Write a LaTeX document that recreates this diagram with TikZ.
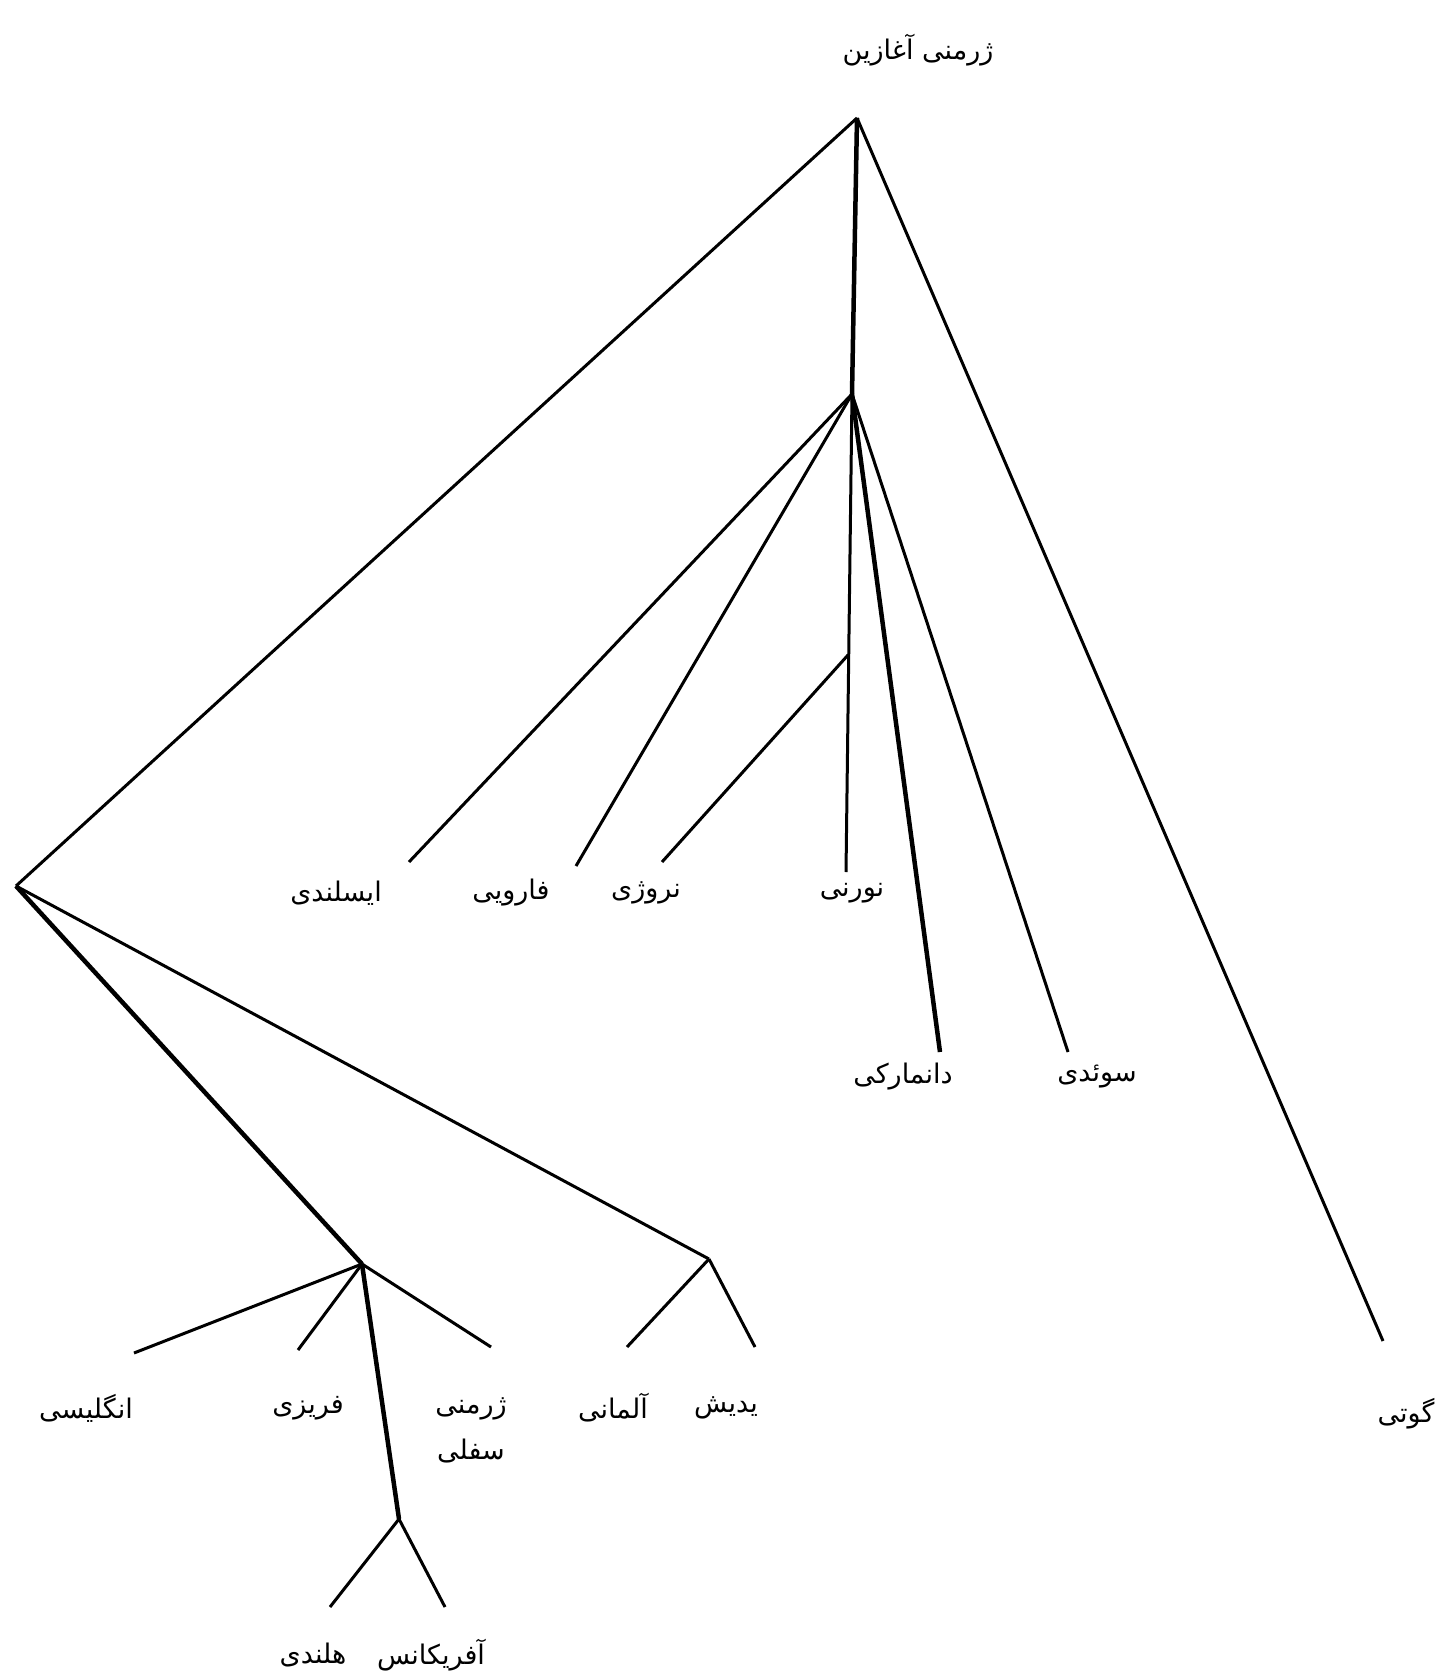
\documentclass[tikz,border=0pt]{standalone}
\usepackage{fontspec}
\newfontfamily\arabicfont[Script=Arabic]{DejaVu Sans}
\TeXXeTstate=1
\newcommand{\pers}[1]{{\arabicfont\beginR #1\endR}}
\tikzset{
  branch/.style={line width=3pt},
  trunk/.style={line width=4.5pt},
  lang/.style={inner sep=0pt, align=center, font=\fontsize{27}{46}\selectfont},
}
\begin{document}
\begin{tikzpicture}[x=1pt,y=-1pt]
	\useasboundingbox (0,0) rectangle (1441,1680);
	% Root
	\node[lang] (pgmc) at (918,50) {\pers{ژرمنی آغازین}};
	\coordinate (root) at (857,118);
	\coordinate (north) at (852,394);
	\coordinate (west) at (16,886);
	\coordinate (gothEnd) at (1383,1341);
	\node[lang] (goth) at (1406,1414) {\pers{گوتی}};
	\draw[trunk] (root) -- (north);
	\draw[branch] (root) -- (west);
	\draw[branch] (root) -- (gothEnd);
	% North
	\coordinate (insular) at (848,655);
	\coordinate (iceEnd) at (409,862);
	\coordinate (faeEnd) at (576,866);
	\coordinate (norEnd) at (662,862);
	\coordinate (nrnEnd) at (846,872);
	\coordinate (danEnd) at (940,1052);
	\coordinate (sweEnd) at (1068,1052);
	\draw[branch] (north) -- (iceEnd);
	\draw[branch] (north) -- (faeEnd);
	\draw[branch] (north) -- (nrnEnd);
	\draw[branch] (insular) -- (norEnd);
	\draw[trunk] (north) -- (danEnd);
	\draw[branch] (north) -- (sweEnd);
	\node[lang] (ice) at (336,893) {\pers{ایسلندی}};
	\node[lang] (fae) at (511,893) {\pers{فارویی}};
	\node[lang] (nor) at (646,893) {\pers{نروژی}};
	\node[lang] (nrn) at (852,893) {\pers{نورنی}};
	\node[lang] (dan) at (903,1077) {\pers{دانمارکی}};
	\node[lang] (swe) at (1097,1077) {\pers{سوئدی}};
	% West
	\coordinate (anglo) at (362,1264);
	\coordinate (high) at (709,1259);
	\coordinate (lowFr) at (399,1519);
	\coordinate (engEnd) at (134,1353);
	\coordinate (friEnd) at (298,1350);
	\coordinate (ndsEnd) at (491,1347);
	\coordinate (deuEnd) at (627,1347);
	\coordinate (yidEnd) at (755,1347);
	\coordinate (nldEnd) at (330,1607);
	\coordinate (afrEnd) at (445,1607);
	\draw[trunk] (west) -- (anglo);
	\draw[branch] (west) -- (high);
	\draw[branch] (anglo) -- (engEnd);
	\draw[branch] (anglo) -- (friEnd);
	\draw[branch] (anglo) -- (ndsEnd);
	\draw[trunk] (anglo) -- (lowFr);
	\draw[branch] (high) -- (deuEnd);
	\draw[branch] (high) -- (yidEnd);
	\draw[branch] (lowFr) -- (nldEnd);
	\draw[branch] (lowFr) -- (afrEnd);
	\node[lang] (eng) at (86,1408) {\pers{انگلیسی}};
	\node[lang] (fri) at (308,1408) {\pers{فریزی}};
	\node[lang] (nds) at (471,1430) {\pers{ژرمنی}\\\pers{سفلی}};
	\node[lang] (deu) at (613,1408) {\pers{آلمانی}};
	\node[lang] (yid) at (726,1408) {\pers{یدیش}};
	\node[lang] (nld) at (313,1655) {\pers{هلندی}};
	\node[lang] (afr) at (431,1655) {\pers{آفریکانس}};
\end{tikzpicture}
\end{document}
